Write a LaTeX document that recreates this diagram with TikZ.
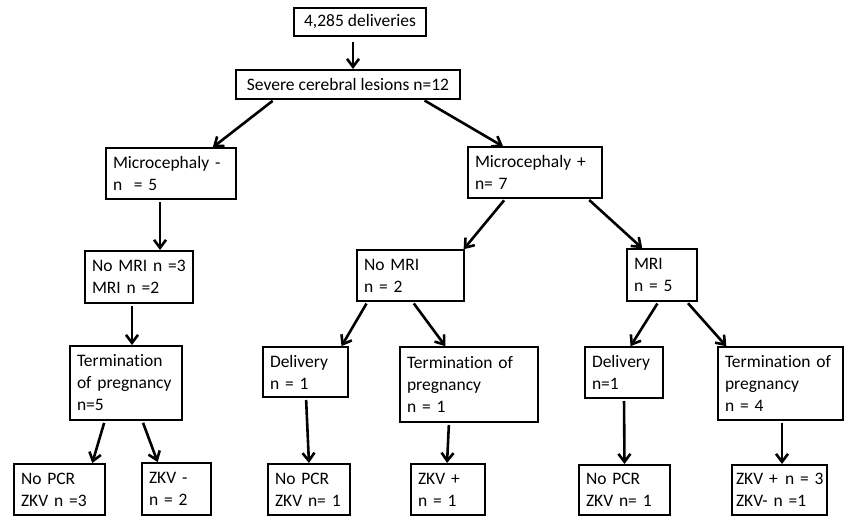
\documentclass[tikz,border=0pt]{standalone}
\usepackage{fontspec}
\setmainfont{Carlito}[Ligatures=CommonOff]
\usetikzlibrary{arrows.meta}

\begin{document}
\begin{tikzpicture}[x=1pt,y=-1pt,>={Straight Barb[length=8pt,width=12pt]},
  every node/.style={font=\fontsize{17.5}{22}\selectfont},
  box/.style={draw,line width=2.6pt,anchor=north west,outer sep=0pt,inner xsep=7pt,inner ysep=0pt,align=left},
  link/.style={->,line width=2.6pt,shorten <=3pt,shorten >=1pt}]
  \useasboundingbox (0,0) rectangle (846,516);
  \node[box,minimum width=132pt,minimum height=28pt,align=center] (del) at (294,8) {4,285 deliveries};
  \node[box,minimum width=224pt,minimum height=29pt,align=center] (sev) at (236,70) {Severe cerebral lesions n=12};
  \node[box,text width=116pt,minimum height=51pt] (mcm) at (106,148) {Microcephaly~-\\n~~=~5};
  \node[box,text width=120pt,minimum height=51pt] (mcp) at (468,147) {Microcephaly~+\\n=~7};
  \node[box,text width=94pt,minimum height=52pt] (nomri1) at (85,251) {No~MRI~n~=3\\MRI~n~=2};
  \node[box,text width=93pt,minimum height=51pt] (nomri2) at (357,250) {No MRI\\n = 2};
  \node[box,text width=56pt,minimum height=52pt] (mri) at (627,249) {MRI\\n = 5};
  \node[box,text width=98pt,minimum height=74pt] (top1) at (70,346) {Termination\\of~pregnancy\\n=5};
  \node[box,text width=71pt,minimum height=50pt] (del2) at (263,347) {Delivery\\n = 1};
  \node[box,text width=124pt,minimum height=75pt] (top2) at (400,347) {Termination~of\\pregnancy\\n = 1};
  \node[box,text width=64pt,minimum height=51pt] (del3) at (585,347) {Delivery\\n=1};
  \node[box,text width=111pt,minimum height=73pt] (top3) at (718,347) {Termination~of\\pregnancy\\n = 4};
  \node[box,text width=77pt,minimum height=51pt] (nopcr1) at (14,464) {No~PCR\\ZKV~n~=3};
  \node[box,text width=55pt,minimum height=52pt] (zkvneg) at (142,463) {ZKV~-\\n~=~2};
  \node[box,text width=68pt,minimum height=51pt] (nopcr2) at (268,464) {No~PCR\\ZKV~n=~1};
  \node[box,text width=60pt,minimum height=51pt] (zkvpos) at (411,464) {ZKV~+\\n~=~1};
  \node[box,text width=77pt,minimum height=50pt] (nopcr3) at (579,465) {No~PCR\\ZKV~n=~1};
  \node[box,inner xsep=4pt,text width=87pt,minimum height=50pt] (zkvall) at (732,465) {\mbox{ZKV +\kern1.5pt\ n = 3}\\\mbox{ZKV- n =1}};
  \draw[link,shorten <=6pt] ([xshift=-7pt]del.south) -- ([xshift=5pt]sev.north);
  \draw[link] ([xshift=-73pt]sev.south) -- ([xshift=41pt]mcm.north);
  \draw[link] ([xshift=74pt]sev.south) -- ([xshift=-31pt]mcp.north);
  \draw[link] ([xshift=-11pt]mcm.south) -- ([xshift=21pt]nomri1.north);
  \draw[link] ([xshift=-7pt]nomri1.south) -- ([xshift=6pt]top1.north);
  \draw[link] ([xshift=-21pt]top1.south) -- ([xshift=32.5pt]nopcr1.north);
  \draw[link] ([xshift=16pt]top1.south) -- ([xshift=-18.5pt]zkvneg.north);
  \draw[link] ([xshift=-29pt]mcp.south) -- ([xshift=52.5pt]nomri2.north);
  \draw[link] ([xshift=52pt]mcp.south) -- ([xshift=-19pt]mri.north);
  \draw[link] ([xshift=-42.5pt]nomri2.south) -- ([xshift=35.5pt]del2.north);
  \draw[link] ([xshift=1.5pt]nomri2.south) -- ([xshift=-23pt]top2.north);
  \draw[link] ([xshift=-3pt]mri.south) -- ([xshift=6pt]del3.north);
  \draw[link] ([xshift=24pt]mri.south) -- ([xshift=-53.5pt]top3.north);
  \draw[link] ([xshift=0.5pt]del2.south) -- (nopcr2.north);
  \draw[link] ([xshift=-20pt]top2.south) -- ([xshift=-1pt]zkvpos.north);
  \draw[link] (del3.south) -- (nopcr3.north);
  \draw[link] ([xshift=1.5pt]top3.south) -- ([xshift=2.5pt]zkvall.north);
\end{tikzpicture}
\end{document}
